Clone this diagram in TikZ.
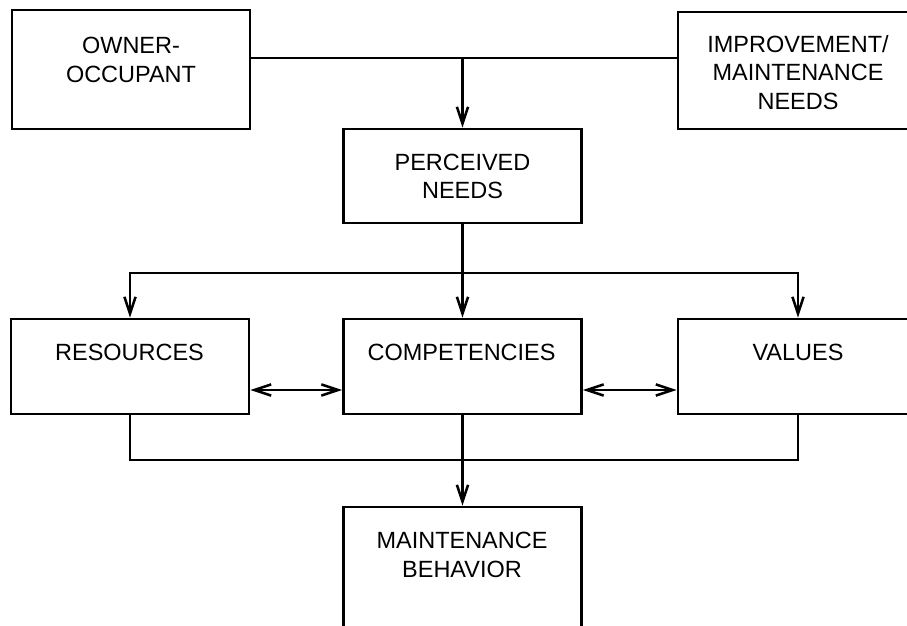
\documentclass[tikz,border=0pt]{standalone}
\usepackage{fontspec}
\setmainfont{Liberation Sans}
\usetikzlibrary{arrows.meta}

\begin{document}
\begin{tikzpicture}[
    line width=1.8pt,
    box/.style={draw, minimum width=5.95cm, inner sep=0pt},
    lbl/.style={align=center, inner sep=0pt, font=\fontsize{16.7}{20.3}\selectfont},
    arr/.style={-{Straight Barb[length=12pt, width=8pt]}},
    arrs/.style={{Straight Barb[length=12pt, width=8pt]}-{Straight Barb[length=12pt, width=8pt]}}
  ]
  \useasboundingbox (0,0) rectangle (22.675,-15.65);
  \clip (0,0) rectangle (22.675,-15.65);

  % Top row
  \node[box, minimum height=2.975cm] (owner) at (3.275,-1.7375) {};
  \node[lbl] (ownertxt) at (3.275,-1.5) {OWNER-\\OCCUPANT};
  \node[box, minimum width=6cm, minimum height=2.925cm] (improve) at (19.95,-1.7625) {};
  \node[lbl] (improvetxt) at (19.95,-1.8125) {IMPROVEMENT/\\MAINTENANCE\\NEEDS};

  \node[box, minimum height=2.35cm] (perceived) at (11.5625,-4.4) {};
  \node[lbl] (perceivedtxt) at (11.5625,-4.4125) {PERCEIVED\\NEEDS};

  % Middle row
  \node[box, minimum height=2.375cm] (res) at (3.25,-9.1625) {};
  \node[lbl] (restxt) at (3.2375,-8.8125) {RESOURCES};
  \node[box, minimum height=2.375cm] (comp) at (11.5625,-9.1625) {};
  \node[lbl] (comptxt) at (11.54,-8.8125) {COMPETENCIES};
  \node[box, minimum width=6cm, minimum height=2.375cm] (val) at (19.95,-9.1625) {};
  \node[lbl] (valtxt) at (19.95,-8.8125) {VALUES};

  % Bottom
  \node[box, minimum height=4cm] (maint) at (11.5625,-14.675) {};
  \node[lbl] (mainttxt) at (11.55,-13.875) {MAINTENANCE\\BEHAVIOR};

  % Connectors
  \coordinate (merge) at (11.5625,-1.45);
  \draw (owner.east |- merge) -- (improve.west |- merge);
  \draw[arr] (merge) -- (perceived.north);

  \coordinate (split) at (11.5625,-6.825);
  \draw (perceived.south) -- (split);
  \draw[arr] (split) -- (comp.north);
  \draw[arr] (split) -| (res.north);
  \draw[arr] (split) -| (val.north);

  \draw[arrs] ([yshift=-0.5875cm]res.east) -- ([yshift=-0.5875cm]comp.west);
  \draw[arrs] ([yshift=-0.5875cm]comp.east) -- ([yshift=-0.5875cm]val.west);

  \coordinate (join) at (11.5625,-11.5);
  \draw (res.south) |- (join) -| (val.south);
  \draw (comp.south) -- (join);
  \draw[arr] (join) -- (maint.north);
\end{tikzpicture}
\end{document}
